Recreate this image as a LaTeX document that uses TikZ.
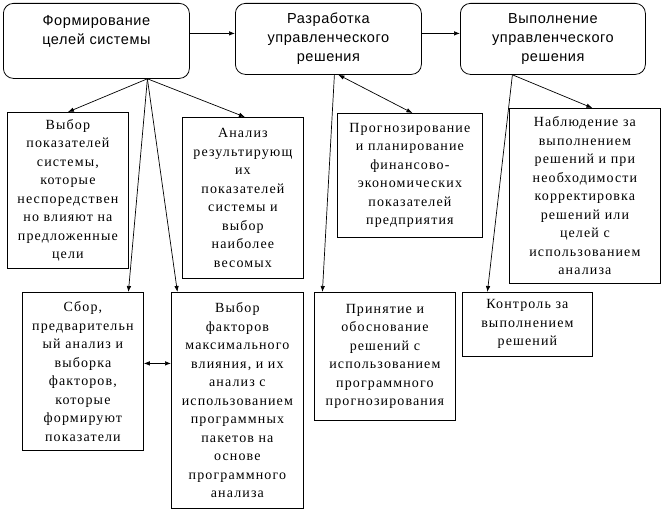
\documentclass[tikz,border=0pt]{standalone}
\usepackage{fontspec}
\setmainfont{Liberation Serif}
\newfontfamily\seriff{Liberation Serif}[LetterSpace=8]
\newfontfamily\sansf{Liberation Sans}[LetterSpace=4]
\usetikzlibrary{arrows.meta}
\begin{document}
\begin{tikzpicture}[x=1pt,y=-1pt,
 topbox/.style={draw, rounded corners=10pt, line width=0.8pt, font=\sansf\fontsize{14.5}{19}\selectfont, align=center, inner sep=0pt, anchor=north west},
 sbox/.style={draw, line width=0.8pt, font=\seriff\fontsize{14}{18.5}\selectfont, align=center, inner sep=0pt, anchor=north west},
 tip/.tip={Latex[length=6pt,width=4.5pt]},
 arr/.style={line width=0.7pt, -tip},
 darr/.style={line width=0.7pt, tip-tip}]
\useasboundingbox[fill=white] (0,0) rectangle (663,511);
% top row
\node[topbox, minimum width=186pt, minimum height=75pt] (A) at (3,3) {Формирование\\целей системы\\\phantom{Ц}};
\node[topbox, minimum width=186pt, minimum height=71pt] (B) at (235,3) {Разработка\\управленческого\\решения};
\node[topbox, minimum width=185pt, minimum height=71pt] (C) at (460,3) {Выполнение\\управленческого\\решения};
% second row
\node[sbox, minimum width=121pt, minimum height=156pt] (D) at (7,112) {Выбор\\показателей\\системы,\\которые\\неспоредствен\\но влияют на\\предложенные\\цели};
\node[sbox, minimum width=121pt, minimum height=161pt] (E) at (182,117) {Анализ\\результирующ\\их\\показателей\\системы и\\выбор\\наиболее\\весомых};
\node[sbox, minimum width=145pt, minimum height=124pt] (H) at (337,113) {Прогнозирование\\и планирование\\финансово-\\экономических\\показателей\\предприятия};
\node[sbox, minimum width=151pt, minimum height=175pt] (J) at (509,108) {Наблюдение за\\выполнением\\решений и при\\необходимости\\корректировка\\решений или\\целей с\\использованием\\анализа};
% third row
\node[sbox, minimum width=121pt, minimum height=158pt] (F) at (22,292) {Сбор,\\предварительн\\ый анализ и\\выборка\\факторов,\\которые\\формируют\\показатели};
\node[sbox, minimum width=132pt, minimum height=216pt] (G) at (171,292) {Выбор\\факторов\\максимального\\влияния, и их\\анализ с\\использованием\\программных\\пакетов на\\основе\\программного\\анализа};
\node[sbox, minimum width=141pt, minimum height=128pt] (I) at (314,292) {Принятие и\\обоснование\\решений с\\использованием\\программного\\прогнозирования};
\node[sbox, minimum width=130pt, minimum height=64pt] (K) at (462,292) {Контроль за\\выполнением\\решений};
% connectors
\draw[arr] ([yshift=7.5pt]A.east) -- ([yshift=7.5pt]A.east -| B.west);
\draw[arr] ([yshift=5.5pt]B.east) -- ([yshift=5.5pt]B.east -| C.west);
\coordinate (a0) at ([xshift=51pt]A.south);
\draw[arr] (a0) -- (D.north);
\draw[arr] (a0) -- ([xshift=2pt]E.north);
\draw[arr] (a0) -- ([xshift=45.5pt]F.north);
\draw[arr] (a0) -- ([xshift=-60pt]G.north);
\coordinate (b0) at ([xshift=10pt]B.south);
\coordinate (b1) at ([xshift=6pt]B.south);
\draw[darr] (b0) -- ([xshift=2.5pt]H.north);
\draw[arr] (b1) -- ([xshift=-62.5pt]I.north);
\coordinate (c0) at ([xshift=-40.5pt]C.south);
\draw[arr] (c0) -- ([xshift=7.5pt]J.north);
\draw[arr] (c0) -- ([xshift=-40pt]K.north);
\draw[darr] ([yshift=8pt]F.east) -- ([yshift=8pt]F.east -| G.west);
\end{tikzpicture}
\end{document}
